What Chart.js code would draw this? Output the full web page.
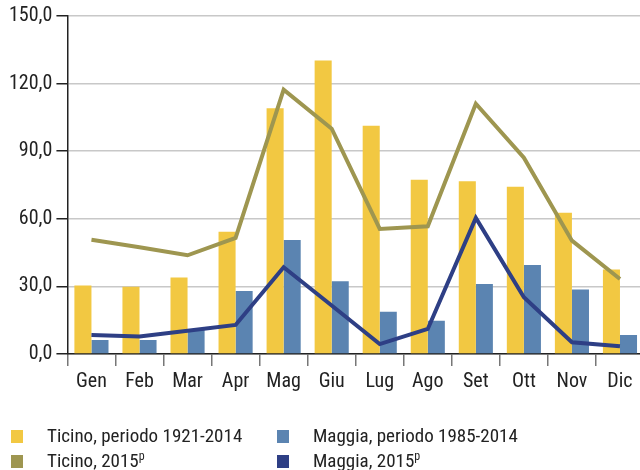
<!DOCTYPE html>
<html>
<head>
<meta charset="utf-8">
<script src="https://cdn.jsdelivr.net/npm/chart.js@4.4.0/dist/chart.umd.min.js"></script>
<style>
  html, body { margin: 0; padding: 0; background: #fff; overflow: hidden; }
  #wrap { position: absolute; left: 0; top: 0; width: 644px; height: 470px; }
  .legend { position: absolute; font-family: "Roboto Condensed", sans-serif; font-size: 19px; color: #222; white-space: nowrap; line-height: 20px; }
  .legend .box { position: absolute; left: 0; top: 4px; width: 12px; height: 13px; }
  .legend span.t { position: absolute; left: 36px; top: 0; }
  sup { font-size: 12px; vertical-align: 7px; line-height: 0; }
</style>
</head>
<body>
<div id="wrap"><canvas id="chart" width="644" height="470"></canvas></div>
<div class="legend" style="left:11px; top:426px;"><div class="box" style="background:#f2c842"></div><span class="t">Ticino, periodo 1921-2014</span></div>
<div class="legend" style="left:11px; top:451px;"><div class="box" style="background:#9e9650"></div><span class="t">Ticino, 2015<sup>p</sup></span></div>
<div class="legend" style="left:277px; top:426px;"><div class="box" style="background:#5b84b1"></div><span class="t">Maggia, periodo 1985-2014</span></div>
<div class="legend" style="left:277px; top:451px;"><div class="box" style="background:#2e3f85"></div><span class="t">Maggia, 2015<sup>p</sup></span></div>
<script>
const months = ['Gen', 'Feb', 'Mar', 'Apr', 'Mag', 'Giu', 'Lug', 'Ago', 'Set', 'Ott', 'Nov', 'Dic']
const ticinoMedia = [30.4, 29.9, 33.9, 54.2, 109.1, 130.2, 101.3, 77.3, 76.7, 74.2, 62.7, 37.5]
const maggiaMedia = [6.2, 6.2, 11.0, 28.0, 50.6, 32.3, 18.7, 14.8, 31.1, 39.5, 28.6, 8.4]
const ticino2015 = [50.7, 47.4, 43.8, 51.5, 117.3, 100.0, 55.5, 56.7, 111.1, 87.1, 50.3, 33.3]
const maggia2015 = [8.4, 7.8, 10.3, 12.9, 38.5, 21.5, 4.4, 11.1, 60.4, 25.2, 5.2, 3.4]

const font = "'Roboto Condensed', sans-serif"
const ctx = document.getElementById('chart').getContext('2d')

const chart = new Chart(ctx, {
    type: 'bar',
    data: {
        labels: months,
        datasets: [
            {
                type: 'line',
                label: 'Ticino, 2015',
                data: ticino2015,
                borderColor: '#9e9650',
                borderWidth: 4,
                pointRadius: 0,
                tension: 0,
                order: 0
            },
            {
                type: 'line',
                label: 'Maggia, 2015',
                data: maggia2015,
                borderColor: '#2e3f85',
                borderWidth: 4,
                pointRadius: 0,
                tension: 0,
                order: 0
            },
            {
                label: 'Ticino, periodo 1921-2014',
                data: ticinoMedia,
                backgroundColor: '#f2c842',
                categoryPercentage: 0.71,
                barPercentage: 1,
                order: 1
            },
            {
                label: 'Maggia, periodo 1985-2014',
                data: maggiaMedia,
                backgroundColor: '#5b84b1',
                categoryPercentage: 0.71,
                barPercentage: 1,
                order: 1
            }
        ]
    },
    options: {
        responsive: false,
        animation: false,
        layout: { padding: { left: 5, right: 0, top: 4, bottom: 72 } },
        plugins: { legend: { display: false }, tooltip: { enabled: false } },
        scales: {
            x: {
                grid: { drawOnChartArea: false, drawTicks: true, tickLength: 12, tickColor: '#777', lineWidth: 1.5 },
                border: { color: '#222', width: 1.5 },
                ticks: { color: '#222', font: { family: font, size: 20 }, padding: 4 }
            },
            y: {
                min: 0,
                max: 150,
                grid: { color: '#c8c8c8', lineWidth: 1.5, tickLength: 11, tickColor: '#222' },
                border: { color: '#222', width: 1.5 },
                ticks: {
                    stepSize: 30,
                    color: '#222',
                    font: { family: font, size: 20 },
                    padding: 4,
                    callback: v => v.toFixed(1).replace('.', ',')
                }
            }
        }
    }
})
</script>
</body>
</html>
